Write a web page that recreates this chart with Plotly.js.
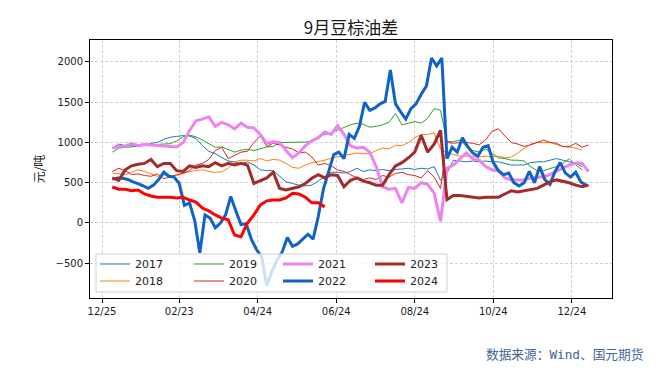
<!DOCTYPE html>
<html><head><meta charset="utf-8">
<script src="https://cdn.plot.ly/plotly-3.0.1.min.js"></script>
<style>html,body{margin:0;padding:0;background:#fff}#chart{width:663px;height:370px}</style>
</head><body><div id="chart"></div>
<script>
// Series values (元/吨)
const y2017 = [930,980,960,960,950,965,990,1000,1040,1065,1075,1085,1080,1050,960,890,860,810,770,760,730,760,720,660,650,650,580,510,490,470,460,470,520,570,630,630,620,640,680,640,660,650,665,650,665,670,680,665,680,670,700,530,620,780,770,760,770,760,770,760,760,740,720,720,720,750,760,760,780,800,780,760,740,700];
const y2018 = [620,610,600,630,660,640,610,580,600,580,590,620,640,650,660,640,630,635,680,760,780,780,770,800,770,790,780,740,690,680,720,745,760,780,805,820,840,850,870,860,860,900,930,920,965,960,1000,1060,1100,1100,1120,920,870,850,830,830,830,820,830,820,830,810,820,870,920,980,1000,1000,1000,975,950,940,930,905];
const y2019 = [880,930,940,945,960,965,970,975,975,985,1020,1070,1090,1070,1030,990,940,945,910,880,905,915,900,920,945,950,1000,1000,1000,1000,1005,1020,1060,1100,1120,1150,1180,1220,1240,1225,1190,1200,1220,1250,1360,1220,1240,1260,1240,1300,1420,1400,1010,1010,1030,950,900,880,920,860,810,800,780,780,770,700,650,650,680,700,740,800,720,660];
const y2020 = [640,680,650,600,610,590,580,610,550,570,600,620,650,720,740,790,900,940,800,840,880,890,1000,1080,950,990,970,940,920,870,880,820,720,740,710,660,640,600,560,540,560,540,590,570,615,630,600,590,560,650,570,430,1000,990,1000,1000,990,970,1030,1140,1170,1080,1000,980,950,970,1000,1030,1000,990,950,950,990,940,970];
const y2021 = [930,950,955,985,960,975,970,965,955,955,945,1000,1150,1270,1290,1320,1200,1250,1220,1170,1240,1190,1180,1100,990,1010,1000,900,810,870,960,1020,1060,1130,1100,1210,1100,960,930,940,880,700,450,420,430,250,440,430,500,480,370,20,680,720,800,870,800,780,700,660,650,560,535,535,535,560,570,575,600,635,680,720,745,740,640];
const y2022 = [545,560,555,540,510,490,460,430,470,540,630,580,570,490,220,250,30,-370,100,60,-60,0,100,330,150,-20,-10,-200,-330,-420,-780,-600,-460,-360,-180,-290,-260,-200,-140,-200,80,420,620,850,880,800,1100,1050,1200,1500,1400,1430,1480,1510,1900,1480,1380,1290,1420,1480,1600,1700,2050,1950,2050,800,940,880,1060,950,870,830,940,960,750,650,600,620,500,460,500,640,500,700,540,480,640,750,620,570,630,510,470];
const y2023 = [560,530,660,710,730,740,790,700,740,740,650,640,710,690,710,700,750,710,740,720,740,720,490,530,560,630,430,410,430,450,490,555,600,560,600,590,450,530,560,520,500,470,470,600,710,750,810,880,1090,880,980,1150,290,340,340,330,320,310,320,320,320,360,400,385,400,410,430,470,510,535,520,500,470,450,470];
const y2024 = [447,420,420,400,410,360,335,320,320,320,310,320,285,260,185,150,100,60,40,-150,-170,0,100,225,275,285,285,310,370,360,320,250,250,200];

const seriesNames = ['2017','2018','2019','2020','2021','2022','2023','2024'];
const seriesValues = [y2017,y2018,y2019,y2020,y2021,y2022,y2023,y2024];
// first observation (days after 12/25) and sampling interval in days
const startDays = [8,8,8,8,8,8,8,8];
const stepDays  = [5,5,5,5,5,4,5,5];

const tickDates  = ['2023-12-25','2024-02-23','2024-04-24','2024-06-24','2024-08-24','2024-10-24','2024-12-24'];
const tickLabels = ['12/25','02/23','04/24','06/24','08/24','10/24','12/24'];
const yTicks = [-500,0,500,1000,1500,2000];

const colors = ['#1f77b4','#ff7f0e','#2ca02c','#d62728','#ee82ee','#0f62c8','#a52a2a','#ff0000'];
const widths = [1,1,1,1,3,3,3,3];

const BASE = Date.UTC(2023,11,25);
function toDates(start, step, n){
  const out=[];
  for(let i=0;i<n;i++){ out.push(new Date(BASE+(start+i*step)*86400000).toISOString().slice(0,10)); }
  return out;
}

// legend slots (pixel positions in the 663x370 frame)
const L=90, R=612, T=40, B=298, W=R-L, H=B-T;
const colLeft = [95,189,278,370];
const rowY = [264,281];

const traces=[]; const legends={};
seriesNames.forEach((nm,i)=>{
  const key = i===0 ? 'legend' : 'legend'+(i+1);
  traces.push({
    type:'scatter', mode:'lines', name:nm,
    x: toDates(startDays[i], stepDays[i], seriesValues[i].length),
    y: seriesValues[i],
    line:{color:colors[i], width:widths[i]},
    legend:key, showlegend:true
  });
  const col=Math.floor(i/2), row=i%2;
  legends[key]={
    x:(colLeft[col]-L)/W, xanchor:'left',
    y:(B-rowY[row])/H, yanchor:'middle',
    bgcolor:'rgba(0,0,0,0)', borderwidth:0,
    font:{family:'DejaVu Sans', size:11, color:'#222'},
    itemwidth:30
  };
});

const layout = Object.assign({
  width:663, height:370,
  margin:{l:L, r:663-R, t:T, b:370-B},
  paper_bgcolor:'#fff', plot_bgcolor:'#fff',
  font:{family:'DejaVu Sans, Noto Sans CJK SC', size:10, color:'#222'},
  title:{text:'9月豆棕油差', font:{family:'Noto Sans CJK SC', size:17, color:'#1a1a1a'}, x:0.5, xref:'paper', xanchor:'center', y:1-28/370, yref:'container', yanchor:'middle'},
  xaxis:{
    type:'date', range:['2023-12-15 16:00','2025-01-24 05:00'],
    tickvals:tickDates, ticktext:tickLabels,
    showline:true, linecolor:'#000', linewidth:1, mirror:true,
    ticks:'outside', ticklen:4, tickcolor:'#000',
    showgrid:true, gridcolor:'#bcbcbc', gridwidth:0.7, griddash:'3px,2px',
    zeroline:false, tickfont:{size:10, color:'#1a1a1a'}
  },
  yaxis:{
    range:[-932,2273], tickvals:yTicks,
    showline:true, linecolor:'#000', linewidth:1, mirror:true,
    ticks:'outside', ticklen:4, tickcolor:'#000',
    showgrid:true, gridcolor:'#bcbcbc', gridwidth:0.7, griddash:'3px,2px',
    zeroline:false, tickfont:{size:10, color:'#1a1a1a'},
    title:{text:'元/吨', font:{family:'Noto Sans CJK SC', size:12, color:'#1a1a1a'}, standoff:8}
  },
  shapes:[{
    type:'rect', xref:'paper', yref:'paper', layer:'above',
    x0:(96-L)/W, x1:(447-L)/W, y0:(B-292)/H, y1:(B-254)/H,
    fillcolor:'rgba(255,255,255,0.8)', line:{color:'#d0d0d0', width:1}
  }],
  annotations:[{
    text:'数据来源：Wind、国元期货', xref:'paper', yref:'paper',
    x:(645-L)/W, y:(B-354)/H, xanchor:'right', yanchor:'middle', showarrow:false,
    font:{family:'DejaVu Sans Mono, Noto Sans CJK SC', size:12.7, color:'#44639a'}
  }]
}, legends);

Plotly.newPlot('chart', traces, layout, {staticPlot:true, displayModeBar:false});
</script></body></html>
